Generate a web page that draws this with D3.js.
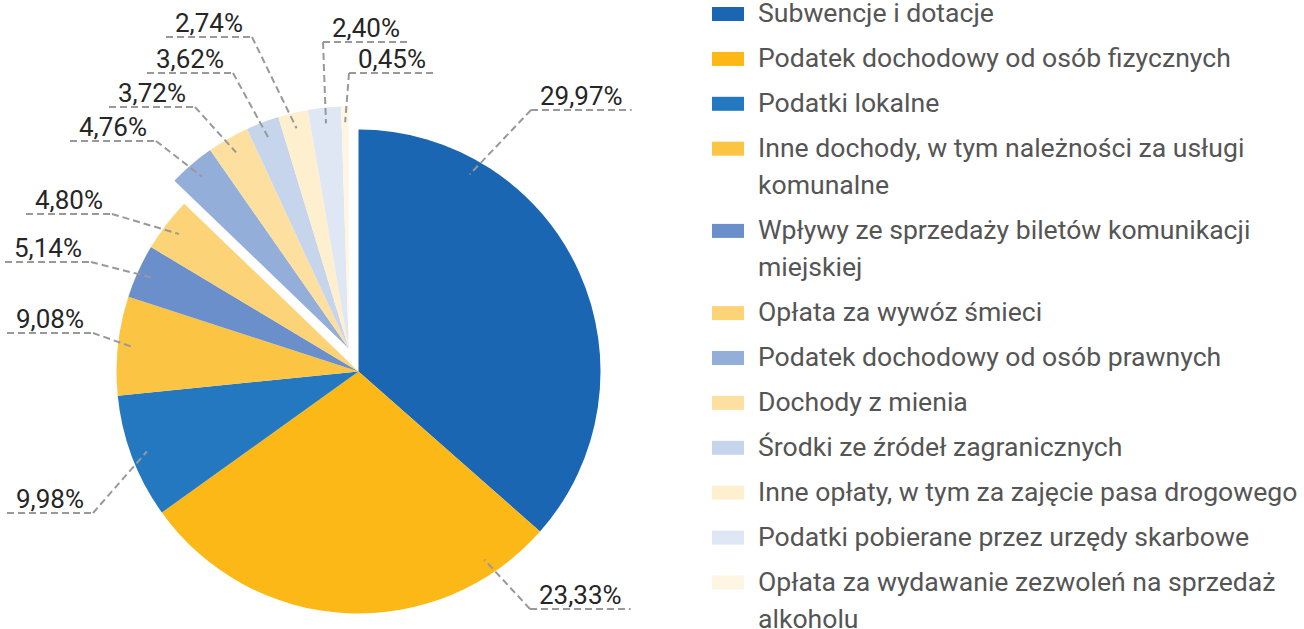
<!DOCTYPE html>
<html>
<head>
<meta charset="utf-8">
<script src="https://cdn.jsdelivr.net/npm/d3@7"></script>
<style>
  html, body { margin: 0; padding: 0; background: #fff; }
  svg { display: block; font-family: Roboto, "Noto Sans", sans-serif; }
</style>
</head>
<body>
<svg id="chart" width="1304" height="629"></svg>
<script>
// income structure pie (slice sizes, labels as printed)

const categories = [
  "Subwencje i dotacje",
  "Podatek dochodowy od osób fizycznych",
  "Podatki lokalne",
  "Inne dochody, w tym należności za usługi komunalne",
  "Wpływy ze sprzedaży biletów komunikacji miejskiej",
  "Opłata za wywóz śmieci",
  "Podatek dochodowy od osób prawnych",
  "Dochody z mienia",
  "Środki ze źródeł zagranicznych",
  "Inne opłaty, w tym za zajęcie pasa drogowego",
  "Podatki pobierane przez urzędy skarbowe",
  "Opłata za wydawanie zezwoleń na sprzedaż alkoholu"
];

const shares = [36.5, 28.6, 8.3, 6.6, 3.6, 3.6, 3.1, 2.8, 2.2, 2.0, 2.2, 0.5];

const valueLabels = ["29,97%", "23,33%", "9,98%", "9,08%", "5,14%", "4,80%",
  "4,76%", "3,72%", "3,62%", "2,74%", "2,40%", "0,45%"];

const colors = ["#1a66b2", "#fbb817", "#2478c0", "#fcc443", "#6a8fca", "#fcd477",
  "#93aed9", "#fde0a0", "#c6d4ec", "#fef0cf", "#dfe6f4", "#fef6e2"];

// slices from this index on are pulled out together
const explodeFrom = 6;

// label placement: text x, underline y, where along the slice the leader starts
const labelLayout = [
  [540, 110, 0.224], [539, 609, 0.144], [16, 513, 0.5], [16, 333, 0.5],
  [14, 262, 0.5], [35, 214, 0.5], [79, 141, 0.5], [118, 107, 0.5],
  [156, 73, 0.5], [175, 37, 0.5], [332, 42, 0.5], [358, 73, 0.5]
];

const svg = d3.select("#chart");
const cx = 358.5, cy = 371.5, R = 242;
const explodeDist = 25;

const pie = d3.pie().sort(null).value(d => d)(shares);
const arc = d3.arc().innerRadius(0).outerRadius(R);

const groupMid = (pie[explodeFrom].startAngle + pie[pie.length - 1].endAngle) / 2;
const offset = (i) => i >= explodeFrom
  ? [explodeDist * Math.sin(groupMid), -explodeDist * Math.cos(groupMid)]
  : [0, 0];

const g = svg.append("g").attr("transform", `translate(${cx},${cy})`);

g.selectAll("path.slice")
  .data(pie)
  .join("path")
  .attr("class", "slice")
  .attr("d", arc)
  .attr("fill", (d, i) => colors[i])
  .attr("transform", (d, i) => `translate(${offset(i)[0]},${offset(i)[1]})`);

// value labels with dashed leaders
const labelG = svg.append("g");
pie.forEach((d, i) => {
  const [tx, ly, t] = labelLayout[i];
  const a = d.startAngle + (d.endAngle - d.startAngle) * t;
  const [ox, oy] = offset(i);
  const rA = R * 0.935;
  const ax = cx + ox + rA * Math.sin(a);
  const ay = cy + oy - rA * Math.cos(a);

  const text = labelG.append("text")
    .attr("x", tx)
    .attr("y", ly - 5)
    .attr("font-size", 26)
    .attr("fill", "#262626")
    .text(valueLabels[i]);

  const w = text.node().getComputedTextLength();
  const x0 = tx - 9, x1 = tx + w + 9;
  const ex = Math.abs(ax - x0) < Math.abs(ax - x1) ? x0 : x1;

  labelG.append("path")
    .attr("d", `M${x0},${ly}H${x1}M${ex},${ly}L${ax},${ay}`)
    .attr("fill", "none")
    .attr("stroke", "#999")
    .attr("stroke-width", 2)
    .attr("stroke-dasharray", "7,4");
});

// legend
const legend = svg.append("g");
const legX = 712, textX = 758, maxW = 560;
let rowY = 14;
categories.forEach((name, i) => {
  const item = legend.append("g");
  item.append("rect")
    .attr("x", legX).attr("y", rowY - 7)
    .attr("width", 32).attr("height", 14)
    .attr("fill", colors[i]);

  const text = item.append("text")
    .attr("x", textX)
    .attr("y", rowY + 8)
    .attr("font-size", 26.6)
    .attr("fill", "#555");

  // simple word wrap
  const words = name.split(" ");
  let line = [], lineNo = 0;
  let tspan = text.append("tspan").attr("x", textX).attr("dy", 0);
  words.forEach(wd => {
    line.push(wd);
    tspan.text(line.join(" "));
    if (tspan.node().getComputedTextLength() > maxW && line.length > 1) {
      line.pop();
      tspan.text(line.join(" "));
      line = [wd];
      lineNo++;
      tspan = text.append("tspan").attr("x", textX).attr("dy", 37.3).text(wd);
    }
  });

  rowY += 44.9 + lineNo * 37.3;
});
</script>
</body>
</html>
